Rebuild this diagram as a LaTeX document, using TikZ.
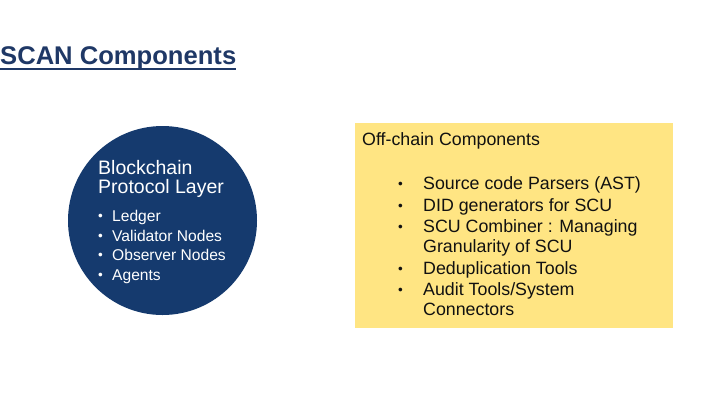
\documentclass[tikz,border=0pt]{standalone}
\usepackage{fontspec}
\setmainfont{Liberation Sans}
\usepackage{xcolor}
\definecolor{scnavy}{HTML}{1F3866}
\definecolor{scdisc}{HTML}{153A6E}
\definecolor{scpanel}{HTML}{FFE583}
\definecolor{scink}{HTML}{111111}
\usetikzlibrary{positioning}
\tikzset{
  sctitle/.style  ={inner sep=0pt, anchor=base west, text=scnavy,
                    font=\fontsize{25.6}{30}\selectfont\bfseries},
  scdisc/.style   ={circle, fill=scdisc, draw=none, minimum size=189pt, inner sep=0pt},
  scpanel/.style  ={rectangle, fill=scpanel, draw=none, minimum width=318pt,
                    minimum height=205pt, inner sep=0pt},
  scwhite/.style  ={inner sep=0pt, anchor=base west, text=white},
  schead/.style   ={scwhite, font=\fontsize{19.5}{22}\selectfont},
  scitem/.style   ={scwhite, font=\fontsize{15.6}{19}\selectfont},
  scline/.style   ={inner sep=0pt, anchor=base west, text=scink,
                    font=\fontsize{17.8}{21}\selectfont},
  scdot/.style    ={inner sep=0pt, anchor=base west, font=\fontsize{13.5}{14}\selectfont},
}
\newcommand{\scbullet}{\raisebox{0.9pt}{•}}
\begin{document}
\begin{tikzpicture}[x=1pt,y=-1pt]
  \useasboundingbox (0,0) rectangle (720,405);

  % title
  \node[sctitle] (title) at (0,64) {SCAN Components};
  \draw[scnavy, line width=1.8pt] ([yshift=-5pt]title.base west) -- ([yshift=-5pt]title.base east);

  % blockchain side
  \node[scdisc] (disc) at (162.5,220.5) {};
  \node[schead] (layer1) at (98,174) {Blockchain};
  \node[schead] (layer2) at (98,193) {Protocol Layer};
  \foreach \y/\txt [count=\i] in {221.5/Ledger, 241/Validator Nodes,
      260.5/Observer Nodes, 280/Agents}{
    \node[scdot, text=white] (dot\i) at (98,\y) {\scbullet};
    \node[scitem] (part\i) at (112,\y) {\txt};
  }

  % off-chain side
  \node[scpanel] (panel) at (514,225.5) {};
  \node[scline] (offhead) at (362,145) {Off-chain Components};
  \foreach \y/\txt [count=\i] in {189/{Source code Parsers (AST)},
      211/{DID generators for SCU}, 232/{SCU Combiner : Managing},
      274/{Deduplication Tools}, 295/{Audit Tools/System}}{
    \node[scdot, text=scink] (bul\i) at (398,\y) {\scbullet};
    \node[scline] (tool\i) at (423,\y) {\txt};
  }
  \node[scline] (tool3b) at (423,252) {Granularity of SCU};
  \node[scline] (tool5b) at (423,315) {Connectors};
\end{tikzpicture}
\end{document}
